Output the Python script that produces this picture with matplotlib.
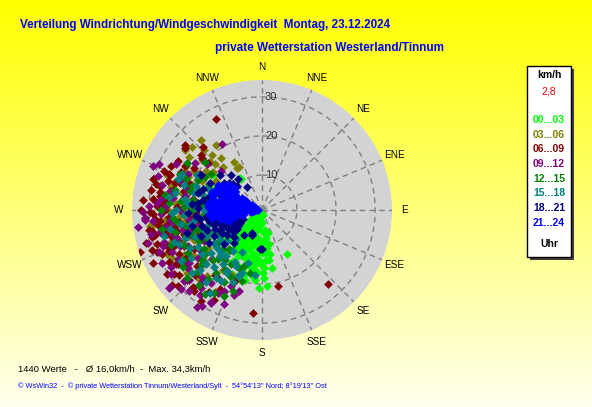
import matplotlib.pyplot as plt
import matplotlib.patches as mpatches
import numpy as np

plt.rcParams['font.family'] = ['Liberation Sans', 'DejaVu Sans']

# wind direction (deg) / wind speed (km/h), per 3-hour block
h00_03 = [(165, 2.4), (218, 3.2), (181, 4.5), (171, 6.2), (165, 7.2), (217, 4.8), (216, 6.3), (213, 8.2),
          (223, 8.1), (225, 8.9), (220, 11.1), (213, 11.3), (207, 10.6), (202, 9.3), (195, 9.8), (188, 10.5),
          (184, 8.7), (178, 9.6), (173, 10.9), (180, 12.1), (187, 12.6), (184, 13.8), (175, 13.9), (190, 14.4),
          (192, 15.9), (187, 16.5), (198, 13.6), (203, 13.1), (210, 12.3), (216, 12.7), (215, 14), (207, 14.4),
          (187, 18.7), (176, 20.5), (151, 14), (179, 17.2), (187, 15.2), (200, 11.5), (194, 12), (182, 14.7),
          (171, 8.4), (325, 11), (305, 16.5), (300, 14.9), (293, 15.5), (306, 17), (326, 10.6), (186, 19.1),
          (250, 1.8), (230, 5.5), (195, 6.5), (208, 7), (228, 10), (232, 13), (220, 15.5), (199, 17),
          (210, 16), (170, 12.5), (178, 16), (195, 18), (205, 19), (240, 11), (262, 12), (233, 4),
          (185, 6), (190, 8), (198, 8), (205, 9), (210, 10), (218, 9.5), (222, 12), (212, 13),
          (200, 14), (192, 13), (183, 11), (176, 12), (172, 14), (180, 15), (188, 14), (196, 15.5),
          (203, 16.5), (185, 17), (190, 17.5), (178, 18.5), (194, 19.5), (182, 21), (170, 16), (168, 10),
          (174, 7), (186, 4), (200, 5), (212, 5.5), (225, 7), (215, 10), (238, 8), (205, 12),
          (197, 11), (189, 9), (227, 12), (235, 10)]
h03_06 = [(319, 24.7), (308, 26), (325, 21.5), (316, 22.5), (313, 19.2), (314, 17.9), (330, 15.2), (332, 13.4),
          (295, 21.9), (299, 20.2), (291, 22.2), (288, 24.4), (292, 16.3), (294, 21.7), (269, 23.7), (262, 29.1),
          (262, 30.1), (245, 27.9), (213, 19.3), (205, 19.4), (210, 25.3), (329, 13.7), (305, 18.5), (300, 23.5),
          (296, 18), (285, 20), (280, 24), (276, 17), (283, 14), (272, 21), (266, 19), (258, 24),
          (252, 22), (246, 20), (240, 24), (235, 18), (228, 21), (220, 23), (264, 26), (290, 27),
          (302, 15), (310, 21), (318, 16), (255, 17), (275, 27), (230, 26), (286, 18),
          (300, 21), (306, 24), (312, 25), (296, 23), (290, 20), (282, 22), (274, 23), (266, 22),
          (260, 27), (254, 20), (248, 23), (242, 27), (236, 22), (224, 25), (318, 20), (322, 18),
          (308, 17), (298, 16), (270, 25), (262, 21), (284, 25), (278, 26), (250, 26)]
h06_09 = [(291, 26.3), (287, 24.4), (278, 27.4), (274, 26.7), (270, 25.8), (269, 29.7), (265, 28.5), (259, 29.8),
          (257, 29.1), (252, 29.3), (251, 27.7), (259, 24.1), (253, 25.1), (256, 23.5), (248, 25.4), (276, 25.5),
          (272, 22.9), (268, 21.2), (253, 22), (263, 19.6), (283, 27.8), (283, 24.3), (260, 30.5), (256, 30),
          (251, 34), (248, 30), (249, 27.1), (264, 27.2), (261, 25.7), (241, 28.3), (237, 26.6), (236, 30.3),
          (232, 28.1), (233, 25.1), (222, 27.4), (220, 24.8), (227, 27.3), (216, 21.5), (210, 19.1), (219, 14.1),
          (213, 26), (208, 23.8), (201, 20.6), (185, 27.5), (168, 20.8), (138, 26.4), (333, 27.1), (310, 26.8),
          (317, 23), (312, 22.2), (311, 21.3), (311, 19.5), (302, 21.5), (300, 23.7), (291, 26.4), (287, 26.3),
          (280, 27.5), (284, 21.5), (290, 20.7), (282, 15.5), (309, 26.3), (268, 18), (262, 22.5), (245, 23),
          (240, 21), (274, 20), (266, 31), (244, 32), (228, 30), (258, 17.5), (248, 19), (238, 24),
          (279, 19), (295, 24), (286, 30), (275, 31.5), (229, 23),
          (250, 24), (256, 26), (262, 28), (268, 29), (272, 28), (276, 29), (280, 25), (284, 29),
          (288, 23), (296, 27), (246, 27), (242, 25), (238, 27), (234, 29), (226, 25), (220, 28),
          (214, 29), (208, 27), (264, 24), (254, 32), (246, 29), (270, 32), (258, 27), (280, 30),
          (292, 28), (300, 26), (230, 31), (260, 26.5), (266, 25), (250, 31)]
h09_12 = [(292, 31.1), (329, 20.7), (314, 15.5), (265, 31), (258, 27.7), (274, 28), (264, 24.7), (252, 27.5),
          (259, 21.9), (251, 20.5), (266, 31), (235, 29.6), (230, 31.8), (209, 27.9), (214, 21.6), (196, 22.6),
          (202, 22.1), (233, 21.5), (230, 32), (209, 28.2), (269, 31.4), (205, 24), (220, 25.5), (226, 19),
          (240, 23), (245, 26.5), (238, 28.5), (255, 24.5), (262, 20), (270, 22), (278, 24), (284, 27.5),
          (290, 23), (298, 26), (275, 18), (268, 15), (250, 16.5), (242, 18), (232, 25), (222, 29),
          (215, 24), (212, 30), (260, 26), (264, 29), (248, 29.5), (254, 31.5), (236, 20), (280, 21),
          (272, 26), (258, 18.5), (244, 22), (218, 26.5), (300, 19.5), (305, 22), (287, 18), (226, 27),
          (252, 24), (310, 19.5),
          (246, 24), (256, 22), (262, 24), (268, 27), (276, 27), (282, 25), (288, 29), (294, 30),
          (250, 28), (240, 26), (234, 24), (228, 28), (222, 24), (216, 28), (208, 25), (202, 27),
          (198, 24), (242, 30), (258, 30), (272, 30), (286, 21), (296, 22), (266, 18), (254, 20),
          (236, 25), (226, 30), (214, 31), (262, 33)]
h12_15 = [(279, 26.1), (302, 23.8), (210, 25.7), (191, 17.5), (285, 20), (295, 19), (290, 15), (300, 13),
          (276, 22), (270, 19), (265, 24), (258, 21), (252, 18), (246, 23), (240, 20), (234, 26),
          (228, 22), (222, 18), (216, 21), (205, 20), (198, 16), (210, 17), (220, 14), (232, 16),
          (244, 14), (256, 13), (268, 14), (280, 16), (292, 22), (262, 17), (249, 26), (238, 25),
          (226, 24), (214, 27), (270, 27), (283, 24), (259, 27), (244, 19), (232, 19.5), (200, 23),
          (218, 23.5), (252, 21.5), (273, 16.5), (287, 12), (264, 11), (236, 12), (225, 15), (305, 17),
          (310, 20),
          (248, 16), (254, 19), (260, 15), (266, 16), (272, 21), (278, 19), (286, 18), (294, 24),
          (300, 18), (242, 17), (236, 19), (230, 21), (224, 19), (216, 17), (208, 22), (204, 25),
          (196, 20), (202, 17), (220, 26), (228, 27), (240, 23), (250, 20), (262, 23), (274, 25),
          (280, 13), (289, 20), (296, 16), (256, 24), (234, 15), (212, 19)]
h15_18 = [(294, 23.5), (281, 23.7), (296, 8.7), (209, 19.6), (186, 17.8), (275, 20), (285, 17), (290, 19),
          (270, 16), (266, 21), (260, 19), (255, 15), (250, 22), (245, 17), (240, 20), (236, 23),
          (230, 18), (226, 21), (220, 20), (214, 22), (205, 17), (210, 19), (200, 19), (224, 16),
          (232, 14), (242, 13), (252, 12), (262, 13), (274, 13), (282, 12), (288, 22), (278, 25),
          (268, 24), (258, 25), (248, 24), (238, 25.5), (228, 25), (218, 24.5), (262, 9), (270, 10),
          (256, 8), (248, 10), (240, 9), (232, 11), (280, 9), (300, 11), (215, 14), (205, 13),
          (195, 15), (212, 26), (255, 27), (265, 15), (248, 19.5), (236, 16), (222, 11),
          (244, 15), (252, 17), (258, 20), (264, 18), (272, 18), (278, 21), (284, 19), (290, 24),
          (276, 14), (268, 12), (246, 12), (238, 14), (230, 16), (222, 17), (216, 18), (208, 16),
          (202, 21), (198, 18), (226, 23), (234, 20), (242, 22), (250, 25), (260, 22), (270, 23),
          (286, 15), (292, 16), (298, 20), (228, 13), (218, 16), (210, 22)]
h18_21 = [(327, 8), (314, 10), (309, 12), (304, 11), (302, 10), (318, 13), (310, 15), (322, 11),
          (202, 8), (183, 11), (201, 8), (180, 11), (204, 7.5), (239, 7.6), (250, 9), (245, 11),
          (255, 12.5), (240, 13), (248, 14), (258, 15), (252, 10.5), (243, 9), (235, 12), (260, 13.5),
          (250, 16), (262, 17), (242, 15), (255, 8), (265, 18), (298, 16), (290, 17), (300, 19),
          (285, 18), (275, 19), (268, 20), (232, 10), (228, 14), (247, 18), (257, 19.5), (280, 16.5),
          (292, 13.5), (238, 17), (226, 11), (253, 21), (272, 17.5), (215, 9), (220, 12), (246, 6.5),
          (236, 8.5),
          (245, 8), (250, 12), (257, 10), (262, 11.5), (238, 10), (244, 13), (253, 14), (259, 11),
          (240, 11), (248, 12), (233, 9), (263, 15.5), (255, 17), (305, 13), (312, 11), (297, 12.5),
          (284, 15), (276, 17.5)]
h21_24 = [(272, 2), (281, 2.5), (266, 3), (288, 3.5), (276, 3.5), (260, 4), (293, 4.5), (270, 4.5),
          (283, 5), (264, 5.5), (298, 5.5), (276, 6), (289, 6.5), (258, 6.5), (270, 7), (302, 7),
          (282, 7.5), (263, 8), (294, 8), (275, 8.5), (286, 9), (256, 9), (268, 9.5), (304, 9.5),
          (279, 10), (291, 10.5), (262, 10.5), (272, 11), (298, 11.5), (284, 12), (258, 12), (268, 12.5),
          (306, 12), (277, 13), (292, 13), (263, 13.5), (286, 14), (272, 14.5), (299, 14), (281, 14.2),
          (266, 14.6), (290, 14.8), (276, 15), (296, 6.5), (269, 5), (279, 4), (285, 7.5), (261, 7.5),
          (274, 10), (300, 9), (288, 11), (265, 11.5), (280, 12.5), (270, 13.5), (295, 12.5), (283, 9.5),
          (277, 7), (267, 6.5), (291, 8.5), (273, 5.5), (286, 4.5), (262, 9), (310, 10), (303, 13),
          (274, 14.8), (261, 14), (252, 10), (255, 6), (296, 14), (287, 14.5),
          (270, 2.5), (275, 3), (283, 3), (290, 3), (262, 3.5), (268, 4), (285, 4), (295, 4),
          (278, 5), (290, 5), (300, 6), (265, 6), (283, 6), (272, 6.5), (260, 7), (292, 7),
          (278, 8), (268, 8), (288, 8), (298, 8.5), (283, 8.5), (260, 9.5), (274, 9), (294, 9.5),
          (266, 10), (285, 10.5), (300, 10.5), (278, 11), (290, 11.5), (260, 11), (270, 12), (296, 13),
          (282, 13.5), (266, 13.2), (290, 13.8), (278, 14), (276, 11.5), (284, 11), (269, 10.5), (281, 8),
          (287, 6), (274, 4.5), (306, 9.5), (308, 11.5), (264, 12.5), (256, 11), (257, 8), (293, 10),
          (301, 12), (272, 9.5)]

hour_labels = ['00...03', '03...06', '06...09', '09...12', '12...15', '15...18', '18...21', '21...24']
hour_colors = ['#00ff00', '#808000', '#800000', '#800080', '#008000', '#008080', '#000080', '#0000ff']
hour_data = [h00_03, h03_06, h06_09, h09_12, h12_15, h15_18, h18_21, h21_24]

directions = ['N', 'NNE', 'NE', 'ENE', 'E', 'ESE', 'SE', 'SSE',
              'S', 'SSW', 'SW', 'WSW', 'W', 'WNW', 'NW', 'NNW']
rings = [10, 20, 30]
n_values = 1440
mean_speed = '16,0'
max_speed = '34,3'
calm = '2,8'

W, H = 592, 407
fig = plt.figure(figsize=(W / 100, H / 100), dpi=100)

# yellow -> pale background
bg = fig.add_axes([0, 0, 1, 1])
grad = np.linspace(0, 1, 256)[:, None]
img = np.zeros((256, 1, 3))
img[:, :, 0] = 1.0
img[:, :, 1] = 1.0
img[:, :, 2] = grad * 0.94
bg.imshow(img, aspect='auto', extent=[0, 1, 0, 1], origin='upper')
bg.axis('off')

# polar area, centre (262,210) px, radius 130 px
cx, cy, R = 262, 210, 130
ax = fig.add_axes([(cx - R) / W, (H - cy - R) / H, 2 * R / W, 2 * R / H], projection='polar')
rmin, rmax = 1.06, 34.3
ax.set_theta_zero_location('N')
ax.set_theta_direction(-1)
ax.set_ylim(rmin, rmax)
ax.set_facecolor('#d3d3d3')
ax.spines['polar'].set_visible(False)
ax.set_xticks([])
ax.set_yticks([])
ax.grid(False)

th = np.linspace(0, 2 * np.pi, 400)
for r in rings:
    ax.plot(th, np.full_like(th, r), color='#808080', lw=1, ls=(0, (4, 3)), zorder=1)
    ax.annotate(str(r), xy=(0, r), xytext=(3, 0), textcoords='offset pixels',
                ha='left', va='center', fontsize=8, color='#303030', zorder=5)
for i, d in enumerate(directions):
    a = np.deg2rad(i * 22.5)
    ax.plot([a, a], [rmin, rmax], color='#808080', lw=1, ls=(0, (4, 3)), zorder=1)
    ax.text(a, 37.6, d, ha='center', va='center', fontsize=7.2, clip_on=False)

for pts, col in zip(hour_data, hour_colors):
    d = np.deg2rad([p[0] for p in pts])
    s = [p[1] for p in pts]
    ax.scatter(d, s, s=20, marker='D', color=col, linewidths=0, zorder=3)

# titles
fig.text(20 / W, 1 - 25 / H, 'Verteilung Windrichtung/Windgeschwindigkeit  Montag, 23.12.2024',
         color='#0000ff', fontsize=8.4, fontweight='bold', ha='left', va='center')
fig.text(215 / W, 1 - 48 / H, 'private Wetterstation Westerland/Tinnum',
         color='#0000ff', fontsize=8.5, fontweight='bold', ha='left', va='center')

# footer
fig.text(18 / W, 1 - 369 / H, f'{n_values} Werte   -   Ø {mean_speed}km/h  -  Max. {max_speed}km/h',
         fontsize=6.8, ha='left', va='center')
fig.text(18 / W, 1 - 386 / H,
         "© WsWin32  -  © private Wetterstation Tinnum/Westerland/Sylt  -  54°54'13'' Nord; 8°19'13'' Ost",
         color='#0000ff', fontsize=5.3, ha='left', va='center')

# legend box with shadow
bx0, by0, bx1, by1 = 527, 66, 571, 257
fig.patches.append(mpatches.Rectangle(((bx0 + 3) / W, 1 - (by1 + 3) / H), (bx1 - bx0) / W, (by1 - by0) / H,
                                      transform=fig.transFigure, facecolor='#404040', edgecolor='none'))
fig.patches.append(mpatches.Rectangle((bx0 / W, 1 - by1 / H), (bx1 - bx0) / W, (by1 - by0) / H,
                                      transform=fig.transFigure, facecolor='white', edgecolor='black', lw=1))
lx = (bx0 + bx1) / 2 / W
fig.text(lx, 1 - 75 / H, 'km/h', fontsize=7.5, fontweight='bold', ha='center', va='center')
fig.text(lx, 1 - 92 / H, calm, fontsize=7.5, color='#ff0000', ha='center', va='center')
for i, (lab, col) in enumerate(zip(hour_labels, hour_colors)):
    fig.text(lx, 1 - (120 + i * 14.7) / H, lab, fontsize=7.5, fontweight='bold', color=col,
             ha='center', va='center')
fig.text(lx, 1 - 244 / H, 'Uhr', fontsize=7.5, fontweight='bold', ha='center', va='center')

fig.savefig('out.png', dpi=100)
